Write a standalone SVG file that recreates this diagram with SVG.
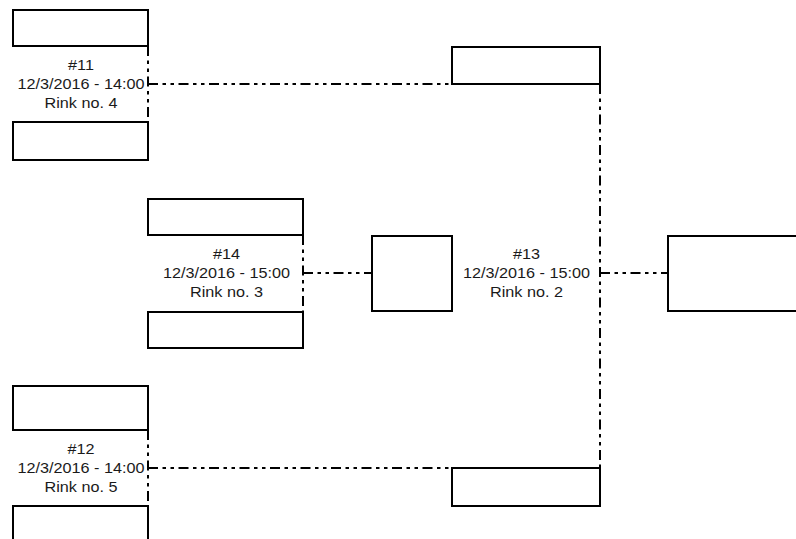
<svg xmlns="http://www.w3.org/2000/svg" width="796" height="539" viewBox="0 0 796 539">
<style>
.box{fill:#fff;stroke:#000;stroke-width:2}
.con{fill:none;stroke:#000;stroke-width:2;stroke-dasharray:10 4.5 3.5 4.5 3.5 4.5}
.t{font-family:"Liberation Sans",Arial,sans-serif;font-size:15px;fill:#1a1a1a;text-anchor:middle}
</style>
<rect width="796" height="539" fill="#fff"/>
<g id="connectors">
<path class="con" d="M148,46 V122"/>
<path class="con" d="M148,84 H452"/>
<path class="con" d="M148,430 V506"/>
<path class="con" d="M148,468 H452"/>
<path class="con" d="M303,235 V312"/>
<path class="con" d="M303,273 H372"/>
<path class="con" d="M600,84 V468"/>
<path class="con" d="M600,273 H668"/>
</g>
<g id="m11">
<rect class="box" x="13" y="10" width="135" height="36"/>
<rect class="box" x="13" y="122" width="135" height="38"/>
<g transform="translate(81,0) scale(1.08,1)">
<text class="t" x="0" y="70.3">#11</text>
<text class="t" x="0" y="89.3">12/3/2016 - 14:00</text>
<text class="t" x="0" y="108.3">Rink no. 4</text>
</g>
</g>
<g id="m14">
<rect class="box" x="148" y="199" width="155" height="36"/>
<rect class="box" x="148" y="312" width="155" height="36"/>
<g transform="translate(226.5,0) scale(1.08,1)">
<text class="t" x="0" y="259.3">#14</text>
<text class="t" x="0" y="278.3">12/3/2016 - 15:00</text>
<text class="t" x="0" y="297.3">Rink no. 3</text>
</g>
</g>
<g id="m12">
<rect class="box" x="13" y="386" width="135" height="44"/>
<path class="box" d="M13,545 V506 H148 V545"/>
<g transform="translate(81,0) scale(1.08,1)">
<text class="t" x="0" y="454.3">#12</text>
<text class="t" x="0" y="473.3">12/3/2016 - 14:00</text>
<text class="t" x="0" y="492.3">Rink no. 5</text>
</g>
</g>
<g id="m13">
<rect class="box" x="452" y="47" width="148" height="37"/>
<rect class="box" x="452" y="468" width="148" height="38"/>
<rect class="box" x="372" y="236" width="80" height="75"/>
<g transform="translate(526.5,0) scale(1.08,1)">
<text class="t" x="0" y="259.3">#13</text>
<text class="t" x="0" y="278.3">12/3/2016 - 15:00</text>
<text class="t" x="0" y="297.3">Rink no. 2</text>
</g>
</g>
<g id="final">
<path class="box" d="M805,236 H668 V311 H805"/>
</g>
</svg>
